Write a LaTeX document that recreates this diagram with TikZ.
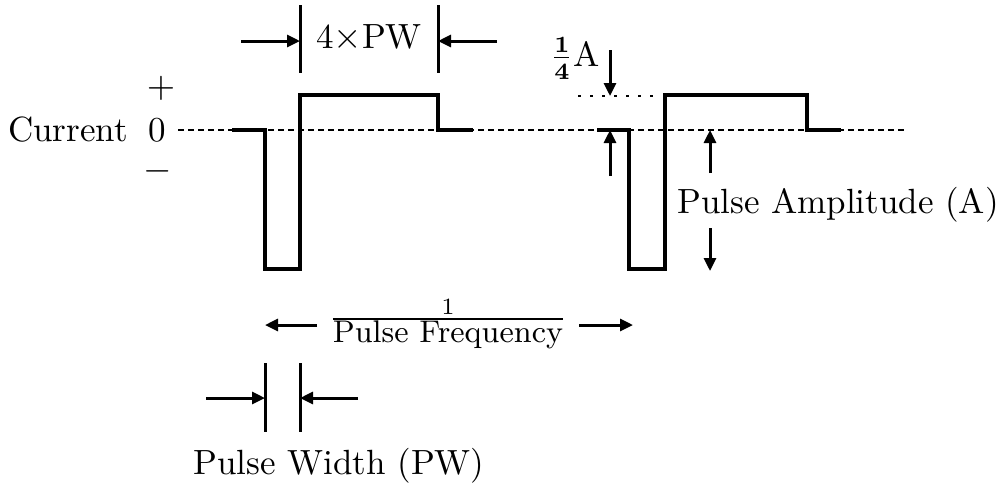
\documentclass[tikz,border=0pt]{standalone}
\usetikzlibrary{arrows.meta}
\begin{document}
\begin{tikzpicture}[x=0.3pt,y=-0.3pt,
  wave/.style={line width=0.95pt,line join=miter},
  zero/.style={line width=0.6pt,dash pattern=on 1.8pt off 1.2pt},
  dots/.style={line width=0.75pt,dash pattern=on 0.8pt off 2.8pt},
  dimline/.style={line width=0.9pt},
  dimarrow/.style={line width=0.9pt,-{Triangle[length=3.9pt,width=3.6pt]}},
  lbl/.style={inner sep=0pt,font=\fontsize{10.5}{12.6}\selectfont}]
\useasboundingbox (0,0) rectangle (999,486);
% zero line
\draw[zero] (178,130) -- (906,130);
% waveform 1
\draw[wave] (232,130) -- (265,130) -- (265,269) -- (300,269) -- (300,95) -- (438,95) -- (438,130) -- (473,130);
% waveform 2
\draw[wave] (597,130) -- (629,130) -- (629,269) -- (665,269) -- (665,95) -- (807,95) -- (807,130) -- (841,130);
% axis labels
\node[lbl] (cur) at (68,130) {Current};
\node[lbl] (plus) at (161,88) {$+$};
\node[lbl] (zeroL) at (157,130) {0};
\node[lbl] (minus) at (158,171) {$-$};
% 4xPW
\coordinate (a1t) at (300,5); \coordinate (a1b) at (300,73);
\coordinate (a2t) at (438,5); \coordinate (a2b) at (438,73);
\draw[dimline] (a1t) -- (a1b);
\draw[dimline] (a2t) -- (a2b);
\coordinate (a1s) at (241,41); \coordinate (a1e) at (300,41);
\coordinate (a2s) at (497,41); \coordinate (a2e) at (438,41);
\draw[dimarrow] (a1s) -- (a1e);
\draw[dimarrow] (a2s) -- (a2e);
\node[lbl] (fourpw) at (369,38) {4$\times$PW};
% 1/4 A
\node[lbl] (quarter) at (575,58) {$\mathbf{\frac{1}{4}}$A};
\draw[dots] (578,96) -- (660,96);
\coordinate (qs) at (610,50); \coordinate (qe) at (610,96);
\draw[dimarrow] (qs) -- (qe);
\coordinate (qs2) at (610,176); \coordinate (qe2) at (610,130);
\draw[dimarrow] (qs2) -- (qe2);
% Pulse amplitude
\coordinate (pa1s) at (710,173); \coordinate (pa1e) at (710,130);
\coordinate (pa2s) at (710,228); \coordinate (pa2e) at (710,271);
\draw[dimarrow] (pa1s) -- (pa1e);
\draw[dimarrow] (pa2s) -- (pa2e);
\node[lbl] (pamp) at (838,205) {Pulse Amplitude (A)};
% 1/Pulse frequency
\node[inner sep=0pt] (pfreq) at (448,324) {\fontsize{9.4}{11}\selectfont$\frac{\scriptstyle 1}{\mbox{Pulse Frequency}}$};
\coordinate (f1s) at (317,325); \coordinate (f1e) at (265,325);
\coordinate (f2s) at (579,325); \coordinate (f2e) at (633,325);
\draw[dimarrow] (f1s) -- (f1e);
\draw[dimarrow] (f2s) -- (f2e);
% Pulse width
\coordinate (w1t) at (265,363); \coordinate (w1b) at (265,432);
\coordinate (w2t) at (300,363); \coordinate (w2b) at (300,432);
\draw[dimline] (w1t) -- (w1b);
\draw[dimline] (w2t) -- (w2b);
\coordinate (w1s) at (206,398); \coordinate (w1e) at (265,398);
\coordinate (w2s) at (358,398); \coordinate (w2e) at (300,398);
\draw[dimarrow] (w1s) -- (w1e);
\draw[dimarrow] (w2s) -- (w2e);
\node[lbl] (pw) at (339,466) {Pulse Width (PW)};
\end{tikzpicture}
\end{document}
